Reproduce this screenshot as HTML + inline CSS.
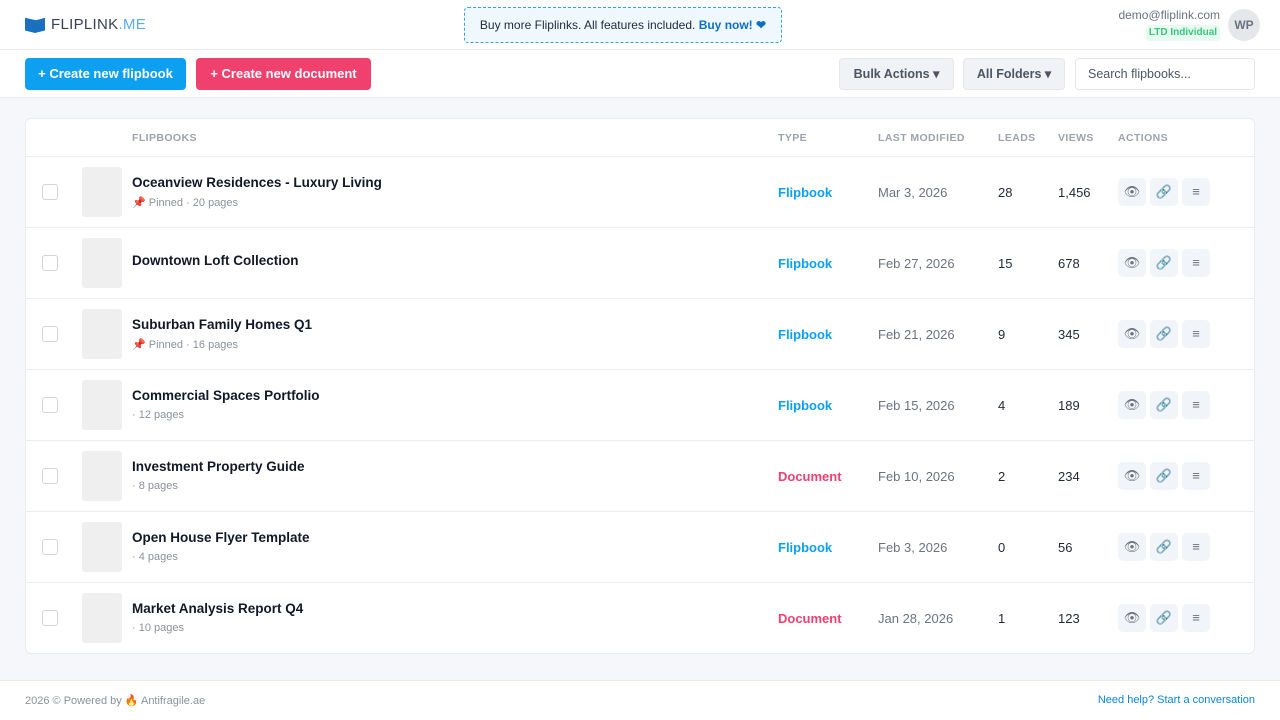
<!DOCTYPE html><html><head><style>
*{box-sizing:border-box;margin:0;padding:0}
body{width:1280px;height:720px;background:#f5f7fa;font-family:"Liberation Sans",sans-serif;position:relative;overflow:hidden;color:#1f2937}
.top{position:absolute;left:0;top:0;width:1280px;height:50px;background:#fff;border-bottom:1px solid #e8ebef}
.bar{position:absolute;left:0;top:50px;width:1280px;height:48px;background:#fff;border-bottom:1px solid #e8ebef}
.btn{position:absolute;top:58px;height:32px;border-radius:4px;color:#fff;font-size:13px;font-weight:bold;line-height:32px;text-align:center}
.gbtn{position:absolute;top:58px;height:32px;border-radius:4px;background:#f0f2f5;border:1px solid #e5e7eb;color:#4b5563;font-size:12.5px;font-weight:bold;line-height:30px;text-align:center}
.card{position:absolute;left:25px;top:118px;width:1230px;height:536px;background:#fff;border:1px solid #e8ebef;border-radius:6px}
.th{position:absolute;top:132px;font-size:10.5px;font-weight:bold;color:#9ca3af;letter-spacing:.4px}
.row{position:absolute;left:26px;width:1228px;height:71px;border-top:1px solid #eceef1}
.row>*{position:absolute}
.cb{left:16px;top:27px;width:16px;height:16px;border:1px solid #d1d5db;border-radius:3px}
.th2{left:56px;top:10px;width:40px;height:50px;background:#efefef;border-radius:3px}
.t{left:106px;top:18px;font-size:13.5px;font-weight:bold;color:#111827}
.s{left:106px;top:39px;font-size:11px;color:#8b929c}
.ty{left:752px;top:28px;font-size:13px;font-weight:bold}
.d{left:852px;top:28px;font-size:13px;color:#6b7280}
.l{left:972px;top:28px;font-size:13px}
.v{left:1032px;top:28px;font-size:13px}
.a{top:21px;width:28px;height:28px;background:#f1f4f8;border-radius:5px;font-size:13px;text-align:center;line-height:28px;color:#6b7280}
</style></head><body>
<div class="top"></div>
<div style="position:absolute;left:25px;top:16px;width:20px;height:17px;background:#1a6fbf;clip-path:polygon(0 10%,45% 25%,50% 100%,0 85%,0 10%,55% 25%,100% 10%,100% 85%,50% 100%)"></div>
<div style="position:absolute;left:51px;top:16px;font-size:15px;color:#374151;letter-spacing:.3px">FLIPLINK<span style="color:#5aaaf0">.ME</span></div>
<div style="position:absolute;left:464px;top:7px;width:318px;height:36px;border:1px dashed #3aa0e0;border-radius:4px;background:#f0f8ff;font-size:12px;line-height:34px;text-align:center;color:#1f2937">Buy more Fliplinks. All features included. <span style="color:#0b6fc7;font-weight:bold">Buy now! ❤</span></div>
<div style="position:absolute;right:60px;top:8px;font-size:12px;color:#6b7280">demo@fliplink.com</div>
<div style="position:absolute;left:1146px;top:25px;width:74px;height:16px;background:#e8fbf1;border-radius:3px;color:#34c77b;font-size:10px;font-weight:bold;text-align:center;line-height:16px">LTD Individual</div>
<div style="position:absolute;left:1228px;top:9px;width:32px;height:32px;border-radius:50%;background:#e5e7eb;color:#6b7280;font-size:12px;font-weight:bold;text-align:center;line-height:32px">WP</div>
<div class="bar"></div>
<div class="btn" style="left:25px;width:161px;background:#0ea0f0">+ Create new flipbook</div>
<div class="btn" style="left:196px;width:175px;background:#f0406e">+ Create new document</div>
<div class="gbtn" style="left:839px;width:115px">Bulk Actions ▾</div>
<div class="gbtn" style="left:963px;width:102px">All Folders ▾</div>
<div style="position:absolute;left:1075px;top:58px;width:180px;height:32px;border:1px solid #e5e7eb;border-radius:4px;background:#fff;font-size:12.5px;color:#4b5563;line-height:30px;padding-left:12px">Search flipbooks...</div>
<div class="card"></div>
<div class="th" style="left:132px">FLIPBOOKS</div>
<div class="th" style="left:778px">TYPE</div>
<div class="th" style="left:878px">LAST MODIFIED</div>
<div class="th" style="left:998px">LEADS</div>
<div class="th" style="left:1058px">VIEWS</div>
<div class="th" style="left:1118px">ACTIONS</div>
<div id="rows"></div>
<script>
var d=[["Oceanview Residences - Luxury Living","📌 Pinned · 20 pages","Flipbook","Mar 3, 2026","28","1,456"],
["Downtown Loft Collection","","Flipbook","Feb 27, 2026","15","678"],
["Suburban Family Homes Q1","📌 Pinned · 16 pages","Flipbook","Feb 21, 2026","9","345"],
["Commercial Spaces Portfolio","· 12 pages","Flipbook","Feb 15, 2026","4","189"],
["Investment Property Guide","· 8 pages","Document","Feb 10, 2026","2","234"],
["Open House Flyer Template","· 4 pages","Flipbook","Feb 3, 2026","0","56"],
["Market Analysis Report Q4","· 10 pages","Document","Jan 28, 2026","1","123"]];
var h="";d.forEach(function(r,i){var y=156+i*71;h+='<div class="row" style="top:'+y+'px"><div class="cb"></div><div class="th2"></div><div class="t" style="'+(r[1]?'':'top:25px')+'">'+r[0]+'</div><div class="s">'+r[1]+'</div><div class="ty" style="color:'+(r[2]=="Flipbook"?"#0ea0f0":"#f0406e")+'">'+r[2]+'</div><div class="d">'+r[3]+'</div><div class="l">'+r[4]+'</div><div class="v">'+r[5]+'</div><div class="a" style="left:1092px">👁</div><div class="a" style="left:1124px">🔗</div><div class="a" style="left:1156px">≡</div></div>'});
document.getElementById("rows").innerHTML=h;
</script>
<div style="position:absolute;left:0;top:680px;width:1280px;height:40px;background:#fff;border-top:1px solid #e8ebef"></div>
<div style="position:absolute;left:25px;top:694px;font-size:11px;color:#8b929c">2026 © Powered by 🔥 Antifragile.ae</div>
<div style="position:absolute;right:25px;top:694px;font-size:11px;color:#0b85d8">Need help? Start a conversation</div>
</body></html>
